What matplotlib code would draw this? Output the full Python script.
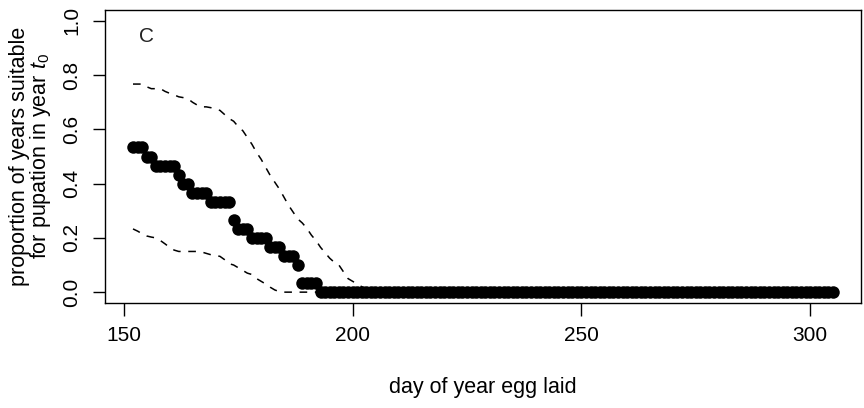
import numpy as np
import matplotlib
matplotlib.use("Agg")
import matplotlib.pyplot as plt

plt.rcParams['font.family'] = ['Liberation Sans', 'DejaVu Sans']
plt.rcParams['mathtext.fontset'] = 'custom'
plt.rcParams['mathtext.it'] = 'Liberation Sans:italic'
plt.rcParams['mathtext.rm'] = 'Liberation Sans'

# day of year the egg was laid
days = np.arange(152, 306)

# number of years (out of 30) suitable for pupation
n_years = 30
suitable_early = [16, 16, 16, 15, 15, 14, 14, 14, 14, 14,
                  13, 12, 12, 11, 11, 11, 11, 10, 10, 10,
                  10, 10, 8, 7, 7, 7, 6, 6, 6, 6,
                  5, 5, 5, 4, 4, 4, 3, 1, 1, 1,
                  1]
suitable = np.array(suitable_early + [0] * (len(days) - len(suitable_early))) / n_years

# upper dashed band (days 152 - 204)
upper_early = [0.767, 0.767, 0.767, 0.757, 0.750, 0.750, 0.750, 0.740, 0.733, 0.727,
               0.720, 0.717, 0.713, 0.700, 0.690, 0.683, 0.683, 0.680, 0.675, 0.670,
               0.655, 0.640, 0.630, 0.610, 0.595, 0.570, 0.545, 0.515, 0.490, 0.460,
               0.430, 0.405, 0.380, 0.350, 0.320, 0.295, 0.270, 0.255, 0.235, 0.210,
               0.190, 0.165, 0.145, 0.125, 0.110, 0.100, 0.075, 0.050, 0.040, 0.030,
               0.020, 0.010, 0.000]
upper = np.array(upper_early + [0.0] * (len(days) - len(upper_early)))

# lower dashed band (days 152 - 185)
lower_early = [0.233, 0.225, 0.215, 0.207, 0.203, 0.200, 0.190, 0.178, 0.165, 0.155,
               0.150, 0.150, 0.150, 0.150, 0.150, 0.148, 0.143, 0.138, 0.135, 0.132,
               0.120, 0.105, 0.100, 0.090, 0.080, 0.070, 0.065, 0.050, 0.040, 0.030,
               0.018, 0.008, 0.002, 0.000]
lower = np.array(lower_early + [0.0] * (len(days) - len(lower_early)))

xticks = [150, 200, 250, 300]
yticks = [0.0, 0.2, 0.4, 0.6, 0.8, 1.0]

W, H = 864, 408
fig = plt.figure(figsize=(W / 100, H / 100), dpi=100)
ax = fig.add_axes([105 / W, 1 - 303 / H, 756 / W, 293 / H])

ax.plot(days, upper, color='black', lw=1.1, dashes=(5, 5))
ax.plot(days, lower, color='black', lw=1.1, dashes=(5, 5))
ax.plot(days, suitable, 'o', color='black', ms=9, mew=0)

ax.set_xlim(152 - 0.04 * 153, 305 + 0.04 * 153)
ax.set_ylim(-0.04, 1.04)
ax.set_xticks(xticks)
ax.set_yticks(yticks)
ax.set_yticklabels(['%.1f' % v for v in yticks])

for s in ax.spines.values():
    s.set_linewidth(1.0)
ax.tick_params(axis='both', length=9, width=1.0, labelsize=15, direction='out')
ax.tick_params(axis='x', pad=7.5)
ax.tick_params(axis='y', pad=8.3, labelrotation=90)
for lab in ax.get_yticklabels():
    lab.set_va('center')

ax.set_xlabel('day of year egg laid', fontsize=15.5)
ax.xaxis.set_label_coords(0.5, (303 - 388) / 293)
ax.xaxis.label.set_va('center')

ax.set_ylabel('proportion of years suitable\nfor pupation in year $t_0$',
              fontsize=15.5, linespacing=0.85)
ax.yaxis.set_label_coords((31 - 105) / 756, 0.5)
ax.yaxis.label.set_va('center')

ax.text(42 / 756, (303 - 37) / 293, 'C', transform=ax.transAxes,
        fontsize=15, ha='center', va='center', color='#222222')

fig.savefig('out.png', dpi=100)
